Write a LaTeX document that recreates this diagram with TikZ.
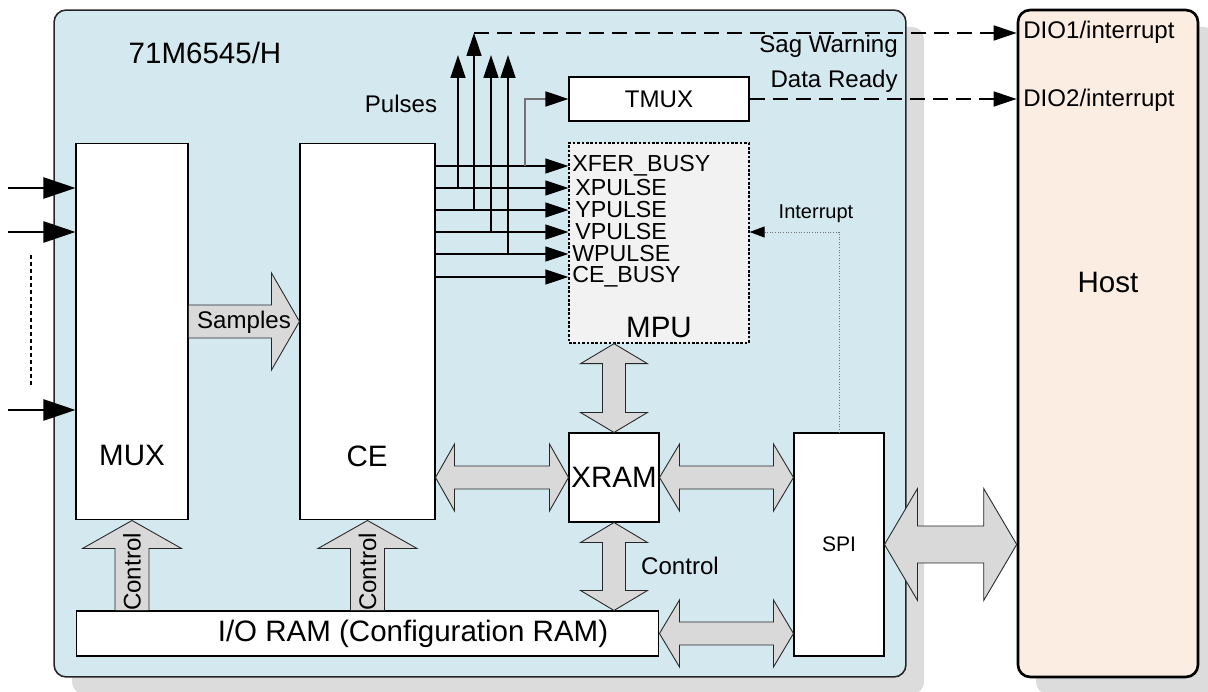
\documentclass[tikz,border=0pt]{standalone}
\usepackage{fontspec}
\setmainfont{Liberation Sans}
\usetikzlibrary{arrows.meta, calc}
\definecolor{chipblue}{HTML}{D3E9EF}
\definecolor{hostpeach}{HTML}{FCEDE2}
\definecolor{shadowgray}{HTML}{DCDCDC}
\definecolor{mpugray}{HTML}{F2F2F2}
\definecolor{busgray}{HTML}{D9D9D9}

% fat bus arrows: (from) (to) shaft-half head-half head-length
\newcommand{\busLR}[5]{%
  \draw[bus] let \p1=(#1), \p2=(#2) in
    (\p1) -- (\x1+#5,\y1+#4) -- (\x1+#5,\y1+#3) -- (\x2-#5,\y2+#3) -- (\x2-#5,\y2+#4)
    -- (\p2) -- (\x2-#5,\y2-#4) -- (\x2-#5,\y2-#3) -- (\x1+#5,\y1-#3) -- (\x1+#5,\y1-#4) -- cycle;}
\newcommand{\busUD}[5]{%
  \draw[bus] let \p1=(#1), \p2=(#2) in
    (\p1) -- (\x1+#4,\y1-#5) -- (\x1+#3,\y1-#5) -- (\x2+#3,\y2+#5) -- (\x2+#4,\y2+#5)
    -- (\p2) -- (\x2-#4,\y2+#5) -- (\x2-#3,\y2+#5) -- (\x1-#3,\y1-#5) -- (\x1-#4,\y1-#5) -- cycle;}
\newcommand{\busR}[5]{%
  \draw[bus] let \p1=(#1), \p2=(#2) in
    (\x1,\y1+#3) -- (\x2-#5,\y2+#3) -- (\x2-#5,\y2+#4) -- (\p2)
    -- (\x2-#5,\y2-#4) -- (\x2-#5,\y2-#3) -- (\x1,\y1-#3) -- cycle;}
\newcommand{\busU}[5]{%
  \draw[bus] let \p1=(#1), \p2=(#2) in
    (\x1-#3,\y1) -- (\x2-#3,\y2-#5) -- (\x2-#4,\y2-#5) -- (\p2)
    -- (\x2+#4,\y2-#5) -- (\x2+#3,\y2-#5) -- (\x1+#3,\y1) -- cycle;}

\begin{document}
\begin{tikzpicture}[x=0.02cm, y=-0.02cm,
  block/.style={rectangle, draw=black, fill=white, line width=0.6pt, inner sep=0pt},
  bigtxt/.style={font=\fontsize{16.8}{19}\selectfont},
  smalltxt/.style={font=\fontsize{13.7}{16}\selectfont},
  sigtxt/.style={font=\fontsize{13.2}{14}\selectfont, anchor=west, inner sep=0pt},
  sig/.style={-{Triangle[length=0.46cm, width=0.3cm]}, line width=0.8pt},
  inarrow/.style={-{Triangle[length=0.64cm, width=0.42cm]}, line width=1.3pt},
  dio/.style={-{Triangle[length=0.46cm, width=0.3cm]}, line width=0.8pt, dash pattern=on 0.3cm off 0.16cm},
  irq/.style={-{Triangle[length=0.3cm, width=0.22cm, black]}, black!55, line width=0.5pt, densely dotted},
  bus/.style={draw=black!85, fill=busgray, line width=0.5pt}
]
\useasboundingbox (0,0) rectangle (1208,692);

% shadows
\fill[shadowgray, rounded corners=0.24cm] (72,27) rectangle (924,694);
\fill[shadowgray, rounded corners=0.24cm] (1036,27) rectangle (1216,694);

\node[draw=black!85, fill=chipblue, line width=0.9pt, rounded corners=0.24cm, minimum width=17.04cm, minimum height=13.34cm] (chip) at (480,343.5) {};
\node[draw=black, fill=hostpeach, line width=1.5pt, rounded corners=0.24cm, minimum width=3.6cm, minimum height=13.34cm] (host) at (1108,343.5) {};

\node[block, minimum width=2.24cm, minimum height=7.54cm] (mux) at (132,331.5) {};
\node[block, minimum width=2.7cm, minimum height=7.54cm] (ce) at (367.5,331.5) {};
\node[block, smalltxt, minimum width=3.6cm, minimum height=0.88cm] (tmux) at (659,99) {TMUX};
\node[block, fill=mpugray, dash pattern=on 1.5pt off 1pt, line width=0.8pt, minimum width=3.6cm, minimum height=4cm] (mpu) at (659,243) {};
\node[block, bigtxt, minimum width=1.8cm, minimum height=1.78cm] (xram) at (614,477.5) {XRAM};
\node[block, font=\fontsize{12}{14}\selectfont, minimum width=1.8cm, minimum height=4.46cm] (spi) at (839,544.5) {SPI};
\node[block, minimum width=11.66cm, minimum height=0.9cm] (ioram) at (367.5,633.5) {};

% buses
\busLR{ce.east |- xram.west}{xram.west}{0.23cm}{0.67cm}{0.38cm}
\busLR{xram.east}{xram.east -| spi.west}{0.23cm}{0.67cm}{0.4cm}
\busLR{ioram.east}{ioram.east -| spi.west}{0.23cm}{0.67cm}{0.4cm}
\busLR{spi.east}{spi.east -| host.west}{0.37cm}{1.12cm}{0.66cm}
\busUD{xram.north |- mpu.south}{xram.north}{0.23cm}{0.67cm}{0.4cm}
\busUD{xram.south}{xram.south |- ioram.north}{0.23cm}{0.67cm}{0.4cm}
\busR{[yshift=0.2cm]mux.east}{[yshift=0.2cm]ce.west}{0.33cm}{0.97cm}{0.56cm}
\busU{mux.south |- ioram.north}{mux.south}{0.34cm}{0.99cm}{0.56cm}
\busU{ce.south |- ioram.north}{ce.south}{0.34cm}{0.99cm}{0.56cm}

% labels
\node[bigtxt] (chipname) at (205,53) {71M6545/H};
\node[bigtxt] (hostname) at (1108,282) {Host};
\node[bigtxt] (muxname) at (132,455) {MUX};
\node[bigtxt] (cename) at (367,456) {CE};
\node[bigtxt] (mpuname) at (659,327) {MPU};
\node[bigtxt] (ioname) at (413,633.5) {I/O RAM (Configuration RAM)};
\node[smalltxt] (samples) at (244,322) {Samples};
\node[smalltxt, rotate=90] (ctrlmux) at (132,572) {Control};
\node[smalltxt, rotate=90] (ctrlce) at (367.5,572) {Control};
\node[smalltxt] (ctrlx) at (680,566) {Control};
\node[smalltxt] (pulses) at (401,104) {Pulses};
\node[smalltxt, anchor=east, inner sep=0pt] (sag) at (898,46) {Sag Warning};
\node[smalltxt, anchor=east, inner sep=0pt] (ready) at (898,81) {Data Ready};
\node[font=\fontsize{11.4}{13}\selectfont] (irqname) at (816,214) {Interrupt};
\node[smalltxt, anchor=west, inner sep=0pt] (dio1) at (1023,32) {DIO1/interrupt};
\node[smalltxt, anchor=west, inner sep=0pt] (dio2) at (1023,100) {DIO2/interrupt};

\node[sigtxt] (xfer) at (572,166) {XFER\_BUSY};
\node[sigtxt] (xpulse) at (575,188) {XPULSE};
\node[sigtxt] (ypulse) at (575,210) {YPULSE};
\node[sigtxt] (vpulse) at (575,232) {VPULSE};
\node[sigtxt] (wpulse) at (572,254) {WPULSE};
\node[sigtxt] (cebusy) at (572,277) {CE\_BUSY};

% CE outputs
\foreach \s in {xfer,xpulse,ypulse,vpulse,wpulse,cebusy}
  \draw[sig] (ce.east |- \s) -- (mpu.west |- \s);
\coordinate (tipx) at (458,55);
\coordinate (tipy) at (474,33);
\coordinate (tipv) at (491,55);
\coordinate (tipw) at (508,55);
\foreach \t/\s in {tipx/xpulse, tipy/ypulse, tipv/vpulse, tipw/wpulse}
  \draw[sig] (\t |- \s) -- (\t);
\coordinate (tap) at (525,166);
\draw[sig, black!55, -{Triangle[length=0.46cm, width=0.3cm, black]}] (tap) |- (tmux.west);

% to host
\draw[dio] (tipy) -- (tipy -| host.west);
\draw[dio] (tmux.east) -- (tmux.east -| host.west);
\draw[irq] (spi.north) |- ([yshift=0.22cm]mpu.east);

% analog inputs
\coordinate (in1) at (8,188);
\coordinate (in2) at (8,232);
\coordinate (in3) at (8,410);
\foreach \i in {in1,in2,in3}
  \draw[inarrow] (\i) -- (\i -| mux.west);
\draw[line width=1.3pt, dash pattern=on 0.08cm off 0.06cm] (31,255) -- (31,385);
\end{tikzpicture}
\end{document}
